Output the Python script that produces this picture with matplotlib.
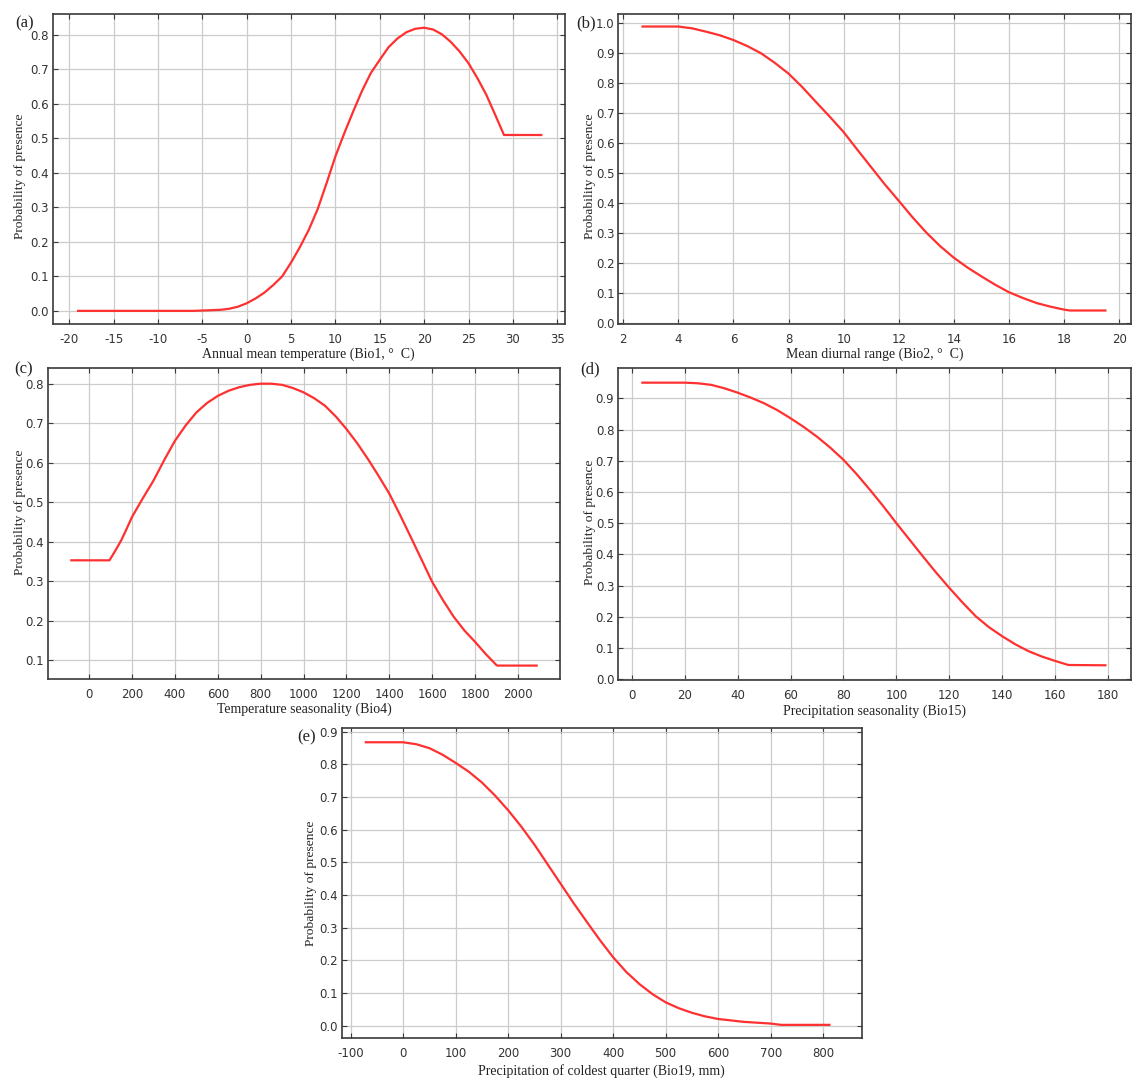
import numpy as np
import matplotlib
matplotlib.use('Agg')
import matplotlib.pyplot as plt
from matplotlib.ticker import FormatStrFormatter, MultipleLocator

plt.rcParams['axes.unicode_minus'] = False

# (a) Annual mean temperature
a_x = [-19, -6, -3, -2, -1, 0, 1, 2, 3, 4, 5, 6, 7, 8, 9, 10, 11, 12, 13, 14,
       15, 16, 17, 18, 19, 20, 21, 22, 23, 24, 25, 26, 27, 28, 29, 33.2]
a_y = [0.0, 0.0, 0.003, 0.006, 0.012, 0.022, 0.036, 0.053, 0.075, 0.10, 0.14,
       0.185, 0.235, 0.295, 0.37, 0.448, 0.515, 0.578, 0.638, 0.69, 0.728,
       0.765, 0.79, 0.808, 0.818, 0.821, 0.816, 0.802, 0.78, 0.752, 0.718,
       0.675, 0.627, 0.569, 0.51, 0.51]

# (b) Mean diurnal range
b_x = [2.7, 4, 4.5, 5, 5.5, 6, 6.5, 7, 7.5, 8, 8.5, 9, 9.5, 10, 10.5, 11, 11.5,
       12, 12.5, 13, 13.5, 14, 14.5, 15, 15.5, 16, 16.5, 17, 17.5, 18, 18.2,
       19.5]
b_y = [0.989, 0.989, 0.983, 0.972, 0.96, 0.944, 0.924, 0.90, 0.868, 0.832,
       0.787, 0.737, 0.688, 0.637, 0.578, 0.52, 0.462, 0.408, 0.353, 0.302,
       0.257, 0.218, 0.185, 0.156, 0.128, 0.103, 0.084, 0.067, 0.055, 0.045,
       0.042, 0.042]

# (c) Temperature seasonality
c_x = [-83, 95, 125, 150, 175, 200, 250, 300, 350, 400, 450, 500, 550, 600,
       650, 700, 750, 800, 850, 900, 950, 1000, 1050, 1100, 1150, 1200, 1250,
       1300, 1350, 1400, 1450, 1500, 1550, 1600, 1650, 1700, 1750, 1800, 1850,
       1900, 1905, 2087]
c_y = [0.353, 0.353, 0.38, 0.404, 0.433, 0.463, 0.51, 0.555, 0.607, 0.656,
       0.695, 0.728, 0.752, 0.77, 0.783, 0.792, 0.798, 0.801, 0.801, 0.798,
       0.79, 0.779, 0.764, 0.745, 0.718, 0.686, 0.65, 0.61, 0.567, 0.522,
       0.468, 0.412, 0.355, 0.298, 0.252, 0.21, 0.175, 0.146, 0.115, 0.087,
       0.086, 0.086]

# (d) Precipitation seasonality
d_x = [4, 20, 25, 30, 35, 40, 45, 50, 55, 60, 65, 70, 75, 80, 85, 90, 95, 100,
       105, 110, 115, 120, 125, 130, 135, 140, 145, 150, 155, 160, 165, 179]
d_y = [0.95, 0.95, 0.948, 0.943, 0.932, 0.918, 0.902, 0.884, 0.862, 0.836,
       0.808, 0.777, 0.742, 0.703, 0.657, 0.607, 0.555, 0.50, 0.447, 0.394,
       0.342, 0.293, 0.246, 0.202, 0.167, 0.138, 0.112, 0.09, 0.073, 0.059,
       0.046, 0.045]

# (e) Precipitation of coldest quarter
e_x = [-71, 0, 25, 50, 75, 100, 125, 150, 175, 200, 225, 250, 275, 300, 325,
       350, 375, 400, 425, 450, 475, 500, 525, 550, 575, 600, 650, 700, 720,
       812]
e_y = [0.868, 0.868, 0.862, 0.85, 0.83, 0.805, 0.778, 0.745, 0.705, 0.66,
       0.61, 0.555, 0.495, 0.435, 0.375, 0.318, 0.262, 0.21, 0.165, 0.128,
       0.097, 0.072, 0.054, 0.04, 0.029, 0.021, 0.012, 0.007, 0.003, 0.003]

panels = [
    # label, x, y, rect, xlim, ylim, xstep, yticks, xlabel, ylabel pos, xlabel y
    ('(a)', a_x, a_y, [0.0461, 0.7025, 0.4486, 0.2847], (-21.87, 35.87),
     (-0.038, 0.861), 5, np.arange(0, 0.81, 0.1),
     'Annual mean temperature (Bio1, °  C)', (-0.064, 0.477), -0.098),
    ('(b)', b_x, b_y, [0.5414, 0.7022, 0.4487, 0.2850], (1.82, 20.42),
     (-0.004, 1.031), 2, np.arange(0, 1.01, 0.1),
     'Mean diurnal range (Bio2, °  C)', (-0.055, 0.478), -0.098),
    ('(c)', c_x, c_y, [0.0418, 0.3765, 0.4486, 0.2853], (-193, 2196),
     (0.052, 0.84), 200, np.arange(0.1, 0.81, 0.1),
     'Temperature seasonality (Bio4)', (-0.055, 0.538), -0.099),
    ('(d)', d_x, d_y, [0.5412, 0.3756, 0.4492, 0.2862], (-5.2, 188.7),
     (-0.002, 0.996), 20, np.arange(0, 0.91, 0.1),
     'Precipitation seasonality (Bio15)', (-0.055, 0.507), -0.099),
    ('(e)', e_x, e_y, [0.2992, 0.0466, 0.4556, 0.2847], (-117, 874),
     (-0.038, 0.911), 100, np.arange(0, 0.91, 0.1),
     'Precipitation of coldest quarter (Bio19, mm)', (-0.059, 0.501), -0.105),
]
label_pos = {'(a)': (0.0219, 0.9789), '(b)': (0.5131, 0.9789),
             '(c)': (0.0210, 0.6612), '(d)': (0.5166, 0.6612),
             '(e)': (0.2688, 0.3232)}

fig = plt.figure(figsize=(11.42, 10.89), dpi=100)

for lab, xs, ys, rect, xlim, ylim, xstep, yticks, xlabel, ylpos, xly in panels:
    ax = fig.add_axes(rect)
    ax.plot(xs, ys, color='#ff3030', lw=1.6, zorder=3)
    ax.set_xlim(*xlim)
    ax.set_ylim(*ylim)
    ax.xaxis.set_major_locator(MultipleLocator(xstep))
    ax.set_yticks(yticks)
    ax.yaxis.set_major_formatter(FormatStrFormatter('%.1f'))
    ax.grid(True, color='#cccccc', lw=0.9)
    ax.set_axisbelow(True)
    for sp in ax.spines.values():
        sp.set_color('#3a3a3a')
        sp.set_linewidth(1.2)
    ax.tick_params(direction='in', top=True, right=True, length=3.5,
                   width=0.8, color='#3a3a3a', labelsize=8.5,
                   labelcolor='#333333')
    ax.tick_params(axis='x', pad=6.5)
    ax.tick_params(axis='y', pad=2.7)
    ax.set_xlabel(xlabel, family='Liberation Serif', fontsize=10,
                  color='#222222', va='center')
    ax.xaxis.set_label_coords(0.5, xly)
    ax.set_ylabel('Probability of presence', family='Liberation Serif',
                  fontsize=9.7, color='#222222', va='center')
    ax.yaxis.set_label_coords(*ylpos)
    fig.text(*label_pos[lab], lab, family='Liberation Serif', fontsize=12,
             ha='center', va='center', color='#222222')

fig.savefig('out.png', dpi=100)
